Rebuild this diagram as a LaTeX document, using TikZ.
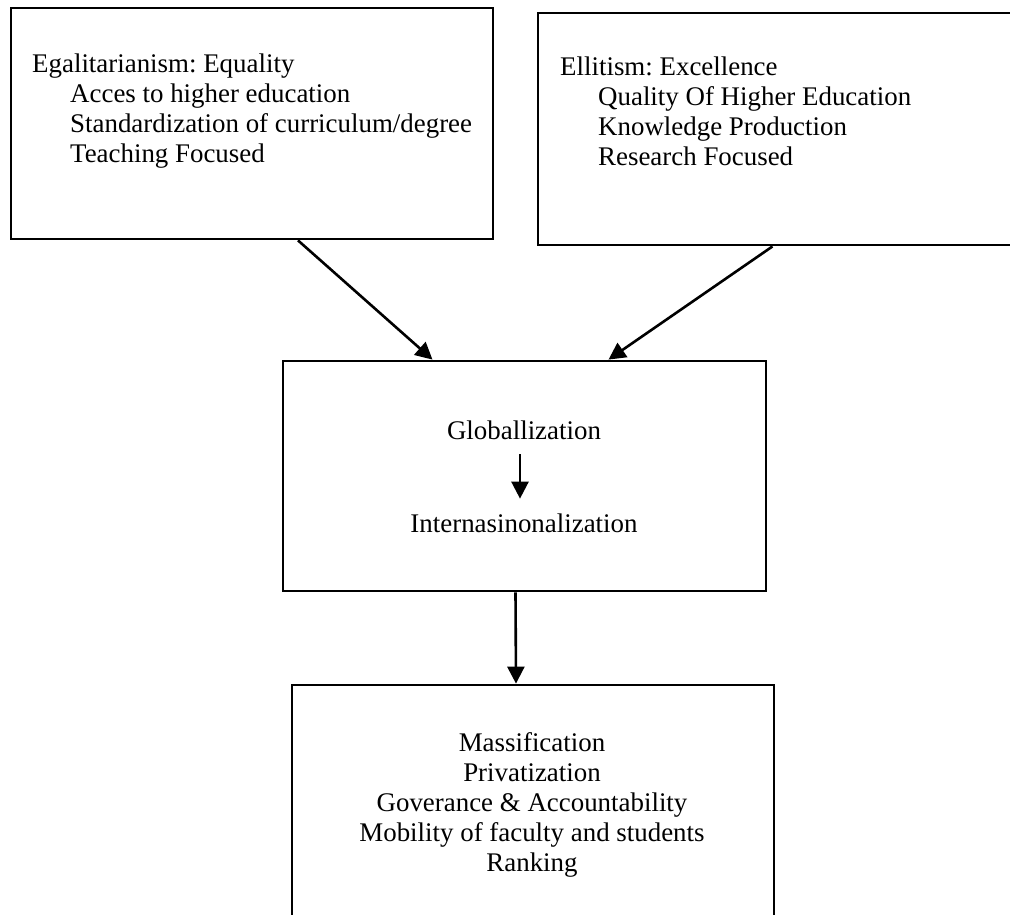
\documentclass[tikz,border=0pt]{standalone}
\usepackage{fontspec}
\setmainfont{Liberation Serif}
\usetikzlibrary{arrows.meta}
\frenchspacing
\tikzset{
  box/.style={draw=black, line width=2.8pt, rectangle, inner sep=0pt},
  txt/.style={inner sep=0pt, font=\fontsize{26.9}{30}\selectfont},
  arr/.style={draw=black, line width=2.6pt, -{Triangle[length=17pt,width=17pt]}},
}
\begin{document}
\begin{tikzpicture}[x=1pt,y=-1pt]
\useasboundingbox (0,0) rectangle (1010,915);
% boxes
\node[box, minimum width=482pt, minimum height=231pt] (b1) at (252,123.5) {};
\node[box, minimum width=477pt, minimum height=232pt] (b2) at (776.5,129) {};
\node[box, minimum width=483pt, minimum height=230pt] (b3) at (524.5,476) {};
\node[box, minimum width=482pt, minimum height=240pt] (b4) at (533,805) {};
% texts (base anchor = baseline of last line)
\node[txt, anchor=base west, align=left] (t1) at (32,163) {Egalitarianism: Equality\\
\hspace*{38pt}Acces to higher education\\
\hspace*{38pt}Standardization of curriculum/degree\\
\hspace*{38pt}Teaching Focused};
\node[txt, anchor=base west, align=left] (t2) at (560,166) {Ellitism: Excellence\\
\hspace*{38pt}Quality Of Higher Education\\
\hspace*{38pt}Knowledge Production\\
\hspace*{38pt}Research Focused};
\node[txt, anchor=base] (glob) at (524,439.5) {Globallization};
\node[txt, anchor=base] (intern) at (524,532.5) {Internasinonalization};
\node[txt, anchor=base, align=center] (t4) at (532,871) {Massification\\
Privatization\\
Goverance \& Accountability\\
Mobility of faculty and students\\
Ranking};
% connectors
\draw[arr] ([xshift=46pt]b1.south) -- ([xshift=-92pt]b3.north);
\draw[arr] ([xshift=-4pt]b2.south) -- ([xshift=84pt]b3.north);
\draw[arr] ([xshift=-4pt, yshift=-14.5pt]glob.south) -- ([xshift=-4pt, yshift=15pt]intern.north);
\draw[arr] ([xshift=-9pt]b3.south) -- ([xshift=-17pt]b4.north);
\end{tikzpicture}
\end{document}
